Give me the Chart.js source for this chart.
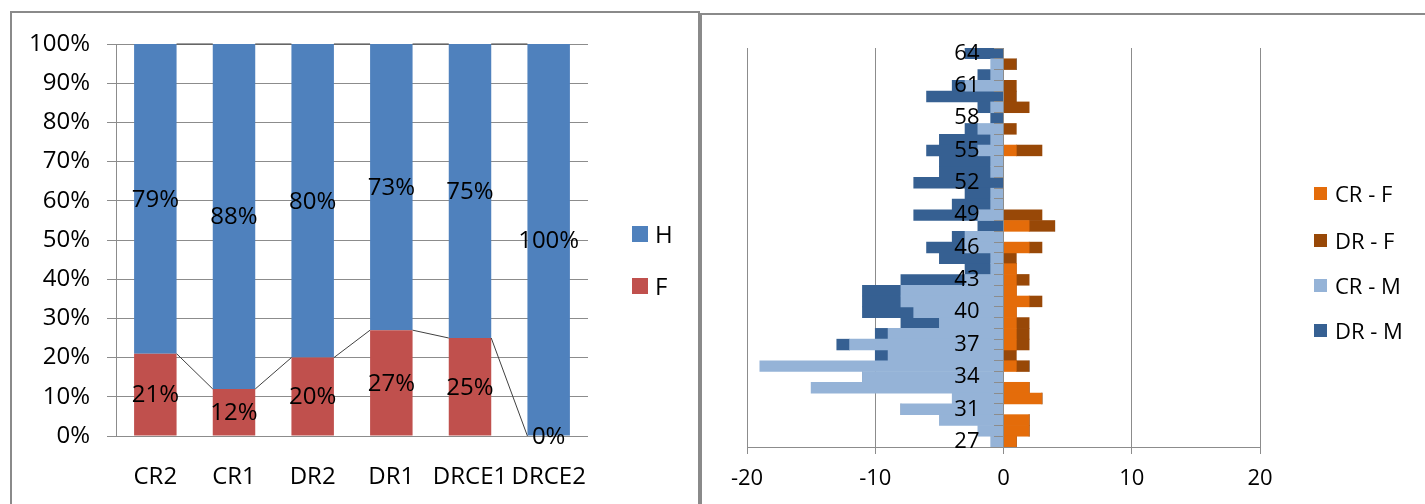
<!DOCTYPE html>
<html><head><meta charset="utf-8">
<script src="https://cdn.jsdelivr.net/npm/chart.js@4.4.1/dist/chart.umd.min.js"></script>
<style>
html,body{margin:0;padding:0;background:#fff;width:1425px;height:504px;overflow:hidden;position:relative;font-family:"Open Sans",sans-serif;}
.box{position:absolute;border:2px solid #8a8a8a;box-sizing:border-box;}
#boxL{left:10px;top:11px;width:690px;height:520px;}
#boxR{left:700px;top:13px;width:760px;height:520px;}
canvas{position:absolute;top:0;}
#cL{left:0;}
#cR{left:702px;}
.lg{position:absolute;height:30px;line-height:30px;color:#000;white-space:nowrap;}
.sw{position:absolute;}
</style>
</head><body>
<div class="box" id="boxL"></div>
<div class="box" id="boxR"></div>
<canvas id="cL" width="698" height="504"></canvas>
<canvas id="cR" width="723" height="504"></canvas>
<div id="legends"></div>
<script>
// ---- Left chart data (100% stacked columns) ----
const groups = ['CR2','CR1','DR2','DR1','DRCE1','DRCE2'];
const femmes = [21, 12, 20, 27, 25, 0];
const hommes = [79, 88, 80, 73, 75, 100];
const leftSeries = ['H','F'];

// ---- Right chart data (age pyramid), listed from top (64) to bottom (27) ----
const ages = [64,63,62,61,60,59,58,57,56,55,54,53,52,51,50,49,48,47,46,45,44,43,42,41,40,39,38,37,36,35,34,33,32,31,30,29,27];
const crF = [0,0,0,0,0,0,0,0,0,1, 0,0,0,0,0,0,2,0,2,0, 1,1,1,2,1,1,1,1,0,1, 0,2,3,0,2,2,1];
const drF = [0,1,0,1,1,2,0,1,0,2, 0,0,0,0,0,3,2,0,1,1, 0,1,0,1,0,1,1,1,1,1, 0,0,0,0,0,0,0];
const crM = [0,-1,-1,-3,0,-1,0,-2,-1,-2, -1,-1,0,-1,-1,-2,0,-3,-3,-1, -1,-3,-8,-8,-7,-5,-9,-12,-9,-19, -11,-15,-4,-8,-5,-2,-1];
const drM = [-3,0,-1,-1,-6,-1,-1,-1,-4,-4, -4,-4,-7,-2,-3,-5,-2,-1,-3,-4, -2,-5,-3,-3,-4,-3,-1,-1,-1,0, 0,0,0,0,0,0,0];
const rightSeries = ['CR - F','DR - F','CR - M','DR - M'];
const xTicks = [-20,-10,0,10,20];

const COL = {H:'#4F81BD', F:'#C0504D', crF:'#E46C0A', drF:'#984807', crM:'#95B3D7', drM:'#366092', grid:'#8c8c8c'};
const AGE_LABEL_ANCHOR = -1.87; // x-value where the age labels' right edge sits (layout only)

function makeLegend(items, x, textX, size, box, font){
  const root = document.getElementById('legends');
  items.forEach(it=>{
    const sw = document.createElement('div');
    sw.className='sw';
    sw.style.cssText = `left:${x}px;top:${it.cy-box/2}px;width:${box}px;height:${box}px;background:${it.color};`;
    root.appendChild(sw);
    const t = document.createElement('div');
    t.className='lg';
    t.style.cssText = `left:${textX}px;top:${it.cy-15}px;font-size:${font}px;`;
    t.textContent = it.label;
    root.appendChild(t);
  });
}

function draw(){
  Chart.defaults.font.family = '"Open Sans"';
  Chart.defaults.color = '#000';

  const seriesLines = {
    id:'seriesLines',
    afterDatasetsDraw(chart){
      const ctx = chart.ctx;
      ctx.save();
      ctx.strokeStyle = '#404040';
      ctx.lineWidth = 1;
      chart.data.datasets.forEach((ds,di)=>{
        const els = chart.getDatasetMeta(di).data;
        for(let i=0;i<els.length-1;i++){
          const a = els[i], b = els[i+1];
          ctx.beginPath();
          ctx.moveTo(a.x + a.width/2, a.y);
          ctx.lineTo(b.x - b.width/2, b.y);
          ctx.stroke();
        }
      });
      ctx.restore();
    }
  };
  const segLabels = {
    id:'segLabels',
    afterDatasetsDraw(chart){
      const ctx = chart.ctx;
      ctx.save();
      ctx.font = '24px "Open Sans"';
      ctx.fillStyle = '#000';
      ctx.textAlign = 'center';
      ctx.textBaseline = 'middle';
      chart.data.datasets.forEach((ds,di)=>{
        chart.getDatasetMeta(di).data.forEach((el,i)=>{
          ctx.fillText(ds.data[i] + '%', el.x, (el.y + el.base)/2 + 1);
        });
      });
      ctx.restore();
    }
  };

  new Chart(document.getElementById('cL'), {
    type:'bar',
    data:{labels:groups, datasets:[
      {label:leftSeries[1], data:femmes, backgroundColor:COL.F},
      {label:leftSeries[0], data:hommes, backgroundColor:COL.H}
    ]},
    options:{
      responsive:false, animation:false,
      layout:{padding:{left:0,right:110,top:44,bottom:0}},
      plugins:{legend:{display:false}, tooltip:{enabled:false}},
      datasets:{bar:{barPercentage:0.54, categoryPercentage:1, borderWidth:0}},
      scales:{
        x:{stacked:true, grid:{display:false}, border:{display:false},
           ticks:{font:{size:24}, color:'#000', padding:19, maxRotation:0, autoSkip:false},
           afterFit(s){ s.height = 68; }},
        y:{stacked:true, min:0, max:100,
           ticks:{stepSize:10, callback:v=>v+'%', padding:17, font:{size:24}, color:'#000'},
           grid:{color:COL.grid, tickLength:9}, border:{color:COL.grid},
           afterFit(s){ s.width = 116; }}
      }
    },
    plugins:[seriesLines, segLabels]
  });

  const ageTick = function(v,i){ return i%3===0 ? this.getLabelForValue(v) : ''; };

  new Chart(document.getElementById('cR'), {
    type:'bar',
    data:{labels:ages.map(String), datasets:[
      {label:rightSeries[0], data:crF, backgroundColor:COL.crF},
      {label:rightSeries[1], data:drF, backgroundColor:COL.drF},
      {label:rightSeries[2], data:crM, backgroundColor:COL.crM},
      {label:rightSeries[3], data:drM, backgroundColor:COL.drM}
    ]},
    options:{
      indexAxis:'y', responsive:false, animation:false,
      layout:{padding:{left:45,right:165,top:48,bottom:0}},
      plugins:{legend:{display:false}, tooltip:{enabled:false}},
      datasets:{bar:{barPercentage:1, categoryPercentage:1, borderWidth:0}},
      scales:{
        x:{type:'linear', min:-20, max:20, stacked:true, position:'bottom',
           afterBuildTicks(s){ s.ticks = xTicks.map(v=>({value:v})); },
           grid:{color:COL.grid, tickLength:7},
           border:{color:COL.grid},
           ticks:{font:{size:22}, color:'#000', padding:12},
           afterFit(s){ s.height = 57; }},
        y:{type:'category', stacked:true, position:{x:0}, offset:true,
           grid:{display:true, drawOnChartArea:false, offset:true, tickLength:9, color:COL.grid, z:1},
           border:{display:true, color:COL.grid, z:1},
           ticks:{display:false, autoSkip:false, padding:0, font:{size:22}}},
        yl:{type:'category', axis:'y', position:{x:AGE_LABEL_ANCHOR}, offset:true,
           grid:{display:false}, border:{display:false},
           ticks:{autoSkip:false, padding:0, color:'#000', font:{size:22}, z:2, callback:ageTick}}
      }
    }
  });

  makeLegend([
    {label:leftSeries[0], color:COL.H, cy:234},
    {label:leftSeries[1], color:COL.F, cy:286}
  ], 632, 655, 16, 16, 24);
  makeLegend([
    {label:rightSeries[0], color:COL.crF, cy:193},
    {label:rightSeries[1], color:COL.drF, cy:240},
    {label:rightSeries[2], color:COL.crM, cy:285},
    {label:rightSeries[3], color:COL.drM, cy:330}
  ], 1314, 1335, 13, 13, 22);
}

let done = false;
function go(){ if(done) return; done = true; draw(); }
if (document.fonts && document.fonts.load) {
  Promise.all([document.fonts.load('24px "Open Sans"'), document.fonts.load('22px "Open Sans"')]).then(go, go);
  setTimeout(go, 1500);
} else { go(); }
</script>
</body></html>
